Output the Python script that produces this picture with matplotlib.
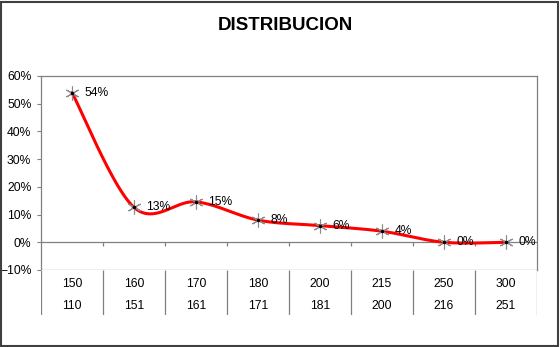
import matplotlib
matplotlib.use("Agg")
import matplotlib.pyplot as plt
from matplotlib.patches import Rectangle
from matplotlib.ticker import PercentFormatter
import numpy as np

plt.rcParams["font.family"] = ["Liberation Sans", "DejaVu Sans"]

upper = ["150", "160", "170", "180", "200", "215", "250", "300"]
lower = ["110", "151", "161", "171", "181", "200", "216", "251"]
share = [0.54, 0.126, 0.146, 0.08, 0.06, 0.04, 0.0, 0.0]

GRID = "#808080"
RED = "#FF0000"


def smooth(xs, ys, steps=40):
    # spreadsheet-style smoothed line: cubic Bezier with Catmull-Rom handles
    p = np.column_stack([xs, ys]).astype(float)
    p = np.vstack([p[0], p, p[-1]])
    out = []
    t = np.linspace(0, 1, steps)[:, None]
    for i in range(1, len(p) - 2):
        a, d = p[i], p[i + 1]
        b = a + (p[i + 1] - p[i - 1]) / 6
        c = d - (p[i + 2] - p[i]) / 6
        seg = (1 - t) ** 3 * a + 3 * (1 - t) ** 2 * t * b + 3 * (1 - t) * t ** 2 * c + t ** 3 * d
        out.append(seg)
    out = np.vstack(out)
    return out[:, 0], out[:, 1]


fig = plt.figure(figsize=(5.6, 3.47), dpi=100)
W, H = 560, 347
ax = fig.add_axes([41 / W, (H - 270) / H, 496 / W, 194 / H])
tab = fig.add_axes([41 / W, (H - 315) / H, 496 / W, 45 / H], sharex=ax)

x = np.arange(len(share))
sx, sy = smooth(x, share)
ax.plot(sx, sy, color=RED, lw=2.2, solid_capstyle="round", zorder=2)
ax.plot(x, share, ls="none", marker=(6, 2, 0), ms=10, mew=0.8, mec="#8C8C8C", zorder=3)
ax.plot(x, share, ls="none", marker="o", ms=1.5, color="black", zorder=4)
for xi, v in zip(x, share):
    ax.annotate(f"{v:.0%}", (xi, v), xytext=(9, 0), textcoords="offset points",
                ha="left", va="center", fontsize=8.7, color="black", zorder=5)

ax.set_xlim(-0.5, len(share) - 0.5)
ax.set_ylim(-0.1, 0.6)
ax.set_yticks(np.arange(-0.1, 0.61, 0.1))
ax.yaxis.set_major_formatter(PercentFormatter(1.0, decimals=0))
ax.tick_params(axis="y", length=3, width=0.8, color=GRID, pad=4, labelsize=8.7)
ax.tick_params(axis="x", bottom=False, labelbottom=False)
for s in ax.spines.values():
    s.set_color(GRID)
    s.set_linewidth(0.9)

# axis line at zero with small category ticks
ax.axhline(0, color=GRID, lw=0.9, zorder=1)
ax.vlines(np.arange(len(share) - 1) + 0.5, -0.014, 0, color=GRID, lw=0.9, zorder=1)

# two-row category table
tab.set_ylim(0, 1)
for s in tab.spines.values():
    s.set_visible(False)
tab.tick_params(left=False, bottom=False, labelleft=False, labelbottom=False)
tab.vlines(np.arange(len(share) + 1) - 0.5, 0, 1, color=GRID, lw=0.9)
for xi, a, b in zip(x, upper, lower):
    tab.text(xi, 0.69, a, ha="center", va="center", fontsize=8.7)
    tab.text(xi, 0.2, b, ha="center", va="center", fontsize=8.7)

fig.text(285 / W, 1 - 26 / H, "DISTRIBUCION", ha="center", va="center",
         fontsize=13.5, fontweight="bold")
fig.add_artist(Rectangle((1 / W, 1 / H), 557 / W, 344 / H, transform=fig.transFigure,
                         fill=False, ec="#404040", lw=1.5))

fig.savefig("out.png", dpi=100)
